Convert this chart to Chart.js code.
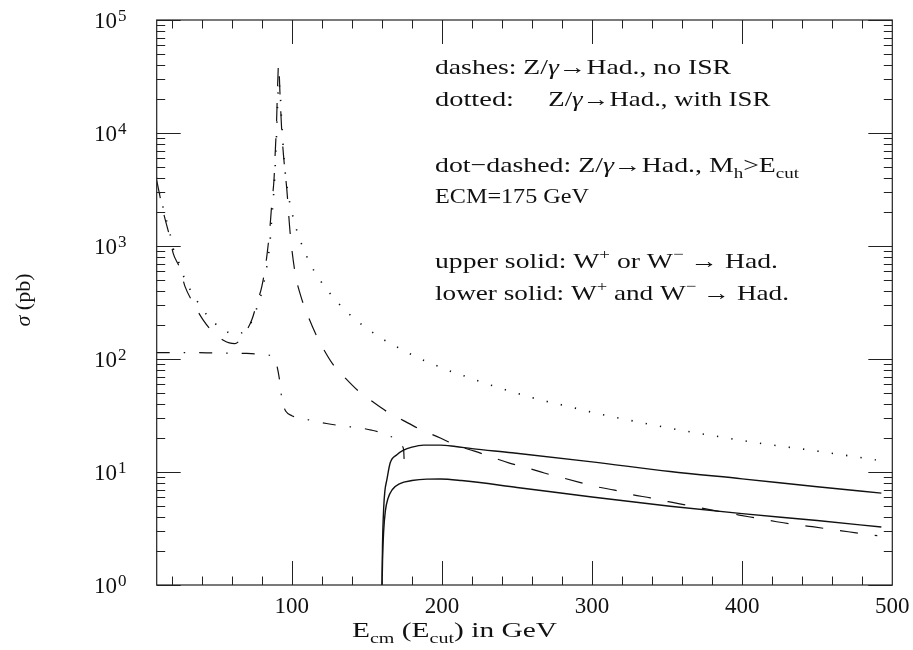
<!DOCTYPE html>
<html><head><meta charset="utf-8">
<script src="https://cdn.jsdelivr.net/npm/chart.js@4.4.1/dist/chart.umd.min.js"></script>
<style>html,body{margin:0;padding:0;background:#fff;}canvas{display:block;}</style>
</head><body>
<canvas id="c" width="913" height="650"></canvas>
<script>
// ---- tick labels ----
const xTickLabels = [100, 200, 300, 400, 500];
const yTickExponents = [0, 1, 2, 3, 4, 5];

// ---- dashes: Z/gamma -> Had., no ISR ----
const dashedX = [10, 14.4, 18.9, 21, 25, 28.9, 34.4, 41, 48.2, 55, 58.4, 62, 65.5, 70, 73.3, 77, 80, 83.3, 85.5, 86.7, 88.2, 88.9, 89.8, 90.5, 91.2, 92.2, 93.2, 94.4, 96.7, 98.9, 102.2, 106, 110, 116.7, 121, 127.3, 136, 144.4, 153.7, 163.7, 174.4, 185.5, 199.3, 210, 221.7, 233.3, 245, 256.7, 268.2, 280, 291.7, 303.3, 315, 327, 338.9, 350.7, 362.9, 380, 398, 410, 423, 434, 446.7, 458.9, 470.7, 483, 490];
const dashedY = [3800, 2000, 1170, 860, 656, 437, 311, 221, 169, 145, 139, 137, 147, 180, 221, 321, 437, 800, 1500, 2400, 4000, 6500, 12000, 25000, 41000, 21000, 11000, 6500, 3140, 1300, 577, 360, 255, 158, 123, 90, 67, 52, 42, 34, 28.5, 23.9, 19.9, 17.1, 15.3, 13.5, 12, 10.9, 9.8, 8.9, 8.1, 7.4, 6.9, 6.3, 5.9, 5.46, 5.1, 4.6, 4.16, 3.9, 3.63, 3.44, 3.28, 3.11, 2.96, 2.81, 2.73];

// ---- dotted: Z/gamma -> Had., with ISR ----
const dottedX = [10, 14.4, 18.9, 21, 25, 28.9, 34.4, 41, 48.2, 55, 58.4, 62, 65.5, 70, 73.3, 77, 80, 83.3, 85.5, 86.7, 88.2, 88.9, 89.8, 90.5, 91.3, 92.2, 93.2, 94.4, 95.5, 97.7, 102.2, 105.5, 108.9, 113.3, 118.4, 124.4, 131.1, 137.8, 145.5, 153.3, 161.7, 170.4, 179.3, 188, 197.7, 206.7, 216, 225.5, 244.4, 263.3, 282.9, 302.2, 321.8, 341.3, 361, 385, 410, 450, 489];
const dottedY = [4000, 2150, 1280, 950, 700, 500, 370, 270, 210, 180, 170, 165, 168, 183, 215, 290, 390, 650, 1100, 1800, 3300, 5000, 9500, 17500, 28000, 23000, 13000, 7000, 4600, 2820, 1540, 1130, 870, 655, 507, 395, 311, 253, 207, 174, 147, 127, 110, 97, 86, 77, 70, 63, 52.4, 44.3, 38.4, 33.2, 29.3, 26, 23.2, 20.5, 18.1, 15.3, 12.8];

// ---- dot-dashed: Z/gamma -> Had., Mh > Ecut (ECM = 175 GeV) ----
const dotDashX = [10, 30, 50, 70, 80, 86, 88, 89, 90, 91, 91.7, 92.7, 94.4, 96, 100, 106.7, 115.5, 125, 134, 143.7, 153, 162, 170.7, 173.5, 174.5, 175];
const dotDashY = [114, 114, 113, 112, 110, 107, 102, 96, 88, 76, 67, 51, 39, 34.5, 31.5, 30, 28, 26.6, 25.5, 24.7, 23.5, 21.7, 18.8, 17, 15.6, 11];

// ---- upper solid: W+ or W- -> Had. ----
const upperX = [160, 160.4, 161.2, 162, 163.3, 165.5, 170, 174.4, 180, 187.8, 198.9, 209, 220, 246.7, 300, 352, 400, 450, 492.7];
const upperY = [0.8, 2.2, 4.8, 6.8, 8.5, 12, 14.2, 15.6, 16.6, 17.3, 17.3, 16.8, 16.1, 14.8, 12.3, 10.1, 8.7, 7.4, 6.5];

// ---- lower solid: W+ and W- -> Had. ----
const lowerX = [160, 160.5, 161.2, 162.3, 164, 167, 172, 180, 190, 199, 213, 250, 300, 352, 400, 450, 492.7];
const lowerY = [0.8, 1.8, 3, 4.5, 5.8, 7, 7.9, 8.4, 8.65, 8.67, 8.4, 7.3, 6.0, 4.98, 4.28, 3.72, 3.26];

const pts = (xs, ys) => xs.map((x, i) => ({x: x, y: ys[i]}));

const SERIF = '"Liberation Serif", "Times New Roman", serif';
const INK = '#111';

function drawRich(ctx, x, y, segs, size, targetW) {
  const fontFor = s => (s.i ? 'italic ' : '') + (s.m ? Math.round(size * 0.7) : size) + 'px ' + SERIF;
  let w = 0;
  for (const s of segs) { ctx.font = fontFor(s); w += ctx.measureText(s.t).width; }
  const k = targetW ? targetW / w : 1;
  ctx.save();
  ctx.translate(x, y); ctx.scale(k, 1);
  ctx.textAlign = 'left'; ctx.textBaseline = 'alphabetic'; ctx.fillStyle = INK;
  let cx = 0;
  for (const s of segs) {
    ctx.font = fontFor(s);
    const dy = s.m === 'sub' ? size * 0.28 : (s.m === 'sup' ? -size * 0.42 : 0);
    ctx.fillText(s.t, cx, dy);
    cx += ctx.measureText(s.t).width;
  }
  ctx.restore();
}
const N = t => ({t: t});
const I = t => ({t: t, i: true});
const SB = t => ({t: t, m: 'sub'});
const SP = t => ({t: t, m: 'sup'});

const notes = [
  {x: 435, y: 74, w: 296, segs: [N('dashes: Z/'), I('γ'), N('→Had., no ISR')]},
  {x: 435, y: 106, w: 79, segs: [N('dotted:')]},
  {x: 548.3, y: 106, w: 222, segs: [N('Z/'), I('γ'), N('→Had., with ISR')]},
  {x: 435, y: 171.7, w: 364, segs: [N('dot−dashed: Z/'), I('γ'), N('→Had., M'), SB('h'), N('>E'), SB('cut')]},
  {x: 435, y: 203.3, w: 154, segs: [N('ECM=175 GeV')]},
  {x: 435, y: 268.3, w: 343, segs: [N('upper solid: W'), SP('+'), N(' or W'), SP('−'), N(' → Had.')]},
  {x: 435, y: 300, w: 354, segs: [N('lower solid: W'), SP('+'), N(' and W'), SP('−'), N(' → Had.')]}
];

const framePlugin = {
  id: 'frame',
  afterDraw(chart) {
    const ctx = chart.ctx, a = chart.chartArea;
    const xs = chart.scales.x, ys = chart.scales.y;
    ctx.save();
    ctx.strokeStyle = '#222'; ctx.lineWidth = 1.2;
    ctx.strokeRect(a.left, a.top, a.right - a.left, a.bottom - a.top);
    ctx.lineWidth = 1;
    const MAJ = 24, MIN = 8.5;
    ctx.beginPath();
    // x ticks
    for (let v = 20; v < 500; v += 20) {
      const px = Math.round(xs.getPixelForValue(v)) + 0.5;
      const len = (v % 100 === 0) ? MAJ : MIN;
      ctx.moveTo(px, a.bottom); ctx.lineTo(px, a.bottom - len);
      ctx.moveTo(px, a.top); ctx.lineTo(px, a.top + len);
    }
    // y ticks
    for (const e of yTickExponents) {
      for (let k = 1; k <= 9; k++) {
        if (e === 5 && k > 1) break;
        const py = Math.round(ys.getPixelForValue(k * Math.pow(10, e))) + 0.5;
        const len = k === 1 ? MAJ : MIN;
        ctx.moveTo(a.left, py); ctx.lineTo(a.left + len, py);
        ctx.moveTo(a.right, py); ctx.lineTo(a.right - len, py);
      }
    }
    ctx.stroke();

    ctx.fillStyle = INK;
    ctx.textBaseline = 'alphabetic';
    // x tick labels
    ctx.font = '23px ' + SERIF; ctx.textAlign = 'center';
    for (const v of xTickLabels) ctx.fillText(String(v), xs.getPixelForValue(v), 612.5);
    // y tick labels 10^n
    for (const e of yTickExponents) {
      const py = ys.getPixelForValue(Math.pow(10, e));
      ctx.font = '23px ' + SERIF; ctx.textAlign = 'right';
      ctx.fillText('10', 117, py + 8);
      ctx.font = '17px ' + SERIF; ctx.textAlign = 'left';
      ctx.fillText(String(e), 118, py + 0.5);
    }
    // axis titles
    drawRich(ctx, 352, 637, [N('E'), SB('cm'), N(' (E'), SB('cut'), N(') in GeV')], 22, 205);
    ctx.save();
    ctx.translate(30, 300); ctx.rotate(-Math.PI / 2);
    ctx.font = '22px ' + SERIF;
    const w1 = (ctx.font = 'italic 22px ' + SERIF, ctx.measureText('σ').width);
    ctx.font = '22px ' + SERIF;
    const w2 = ctx.measureText(' (pb)').width;
    const x0 = -(w1 + w2) / 2;
    ctx.textAlign = 'left';
    ctx.font = 'italic 22px ' + SERIF; ctx.fillText('σ', x0, 0);
    ctx.font = '22px ' + SERIF; ctx.fillText(' (pb)', x0 + w1, 0);
    ctx.restore();
    // annotations
    for (const n of notes) drawRich(ctx, n.x, n.y, n.segs, 22, n.w);
    ctx.restore();
  }
};

const common = {pointRadius: 0, fill: false, borderColor: INK, cubicInterpolationMode: 'monotone'};

new Chart(document.getElementById('c'), {
  type: 'line',
  data: {
    datasets: [
      Object.assign({label: 'dashes: no ISR', data: pts(dashedX, dashedY), borderWidth: 1.2, borderDash: [18, 17]}, common),
      Object.assign({label: 'dotted: with ISR', data: pts(dottedX, dottedY), borderWidth: 1.6, borderDash: [1.3, 13.2]}, common),
      Object.assign({label: 'dot-dashed: Mh>Ecut', data: pts(dotDashX, dotDashY), borderWidth: 1.2, borderDash: [13, 14, 1.5, 14]}, common),
      Object.assign({label: 'upper solid', data: pts(upperX, upperY), borderWidth: 1.4}, common),
      Object.assign({label: 'lower solid', data: pts(lowerX, lowerY), borderWidth: 1.4}, common)
    ]
  },
  options: {
    responsive: false,
    devicePixelRatio: 1,
    animation: false,
    layout: {padding: {left: 156.7, right: 20.7, top: 20, bottom: 65}},
    plugins: {legend: {display: false}, tooltip: {enabled: false}},
    scales: {
      x: {type: 'linear', min: 10, max: 500, display: false},
      y: {type: 'logarithmic', min: 1, max: 100000, display: false}
    }
  },
  plugins: [framePlugin]
});
</script>
</body></html>
